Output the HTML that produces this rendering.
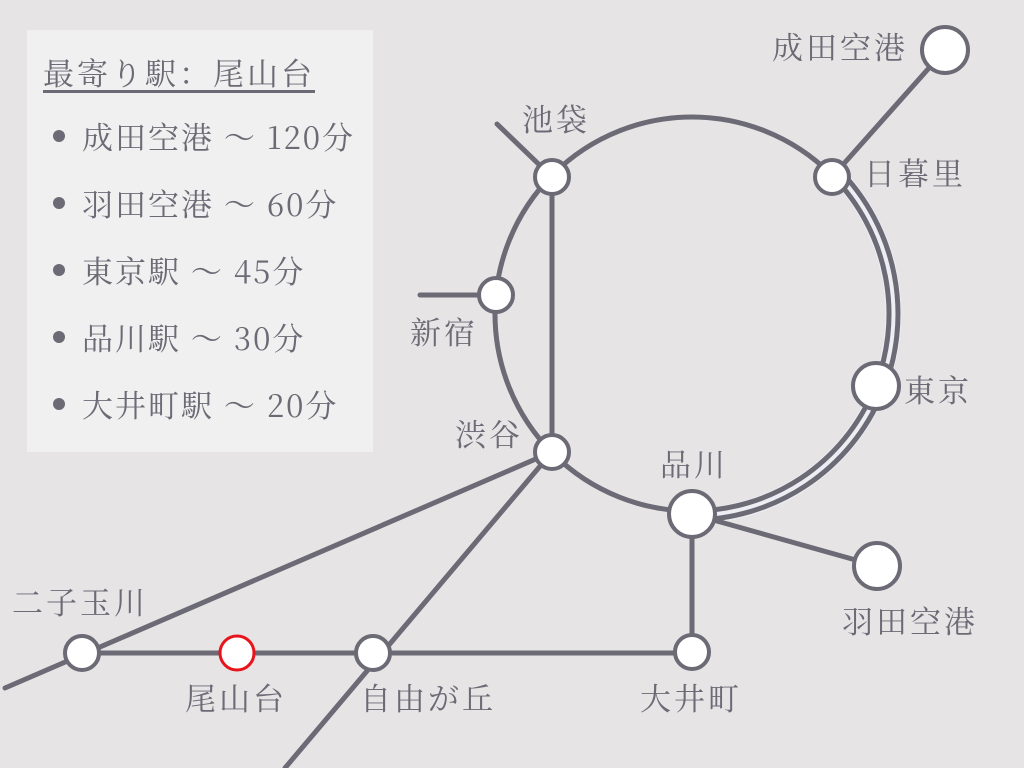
<!DOCTYPE html>
<html><head><meta charset="utf-8"><style>
body{margin:0;width:1024px;height:768px;background:#e6e4e5;overflow:hidden;font-family:"Noto Serif CJK SC","Liberation Serif",serif;color:#6b6a75}
#lg{position:absolute;left:27px;top:30px;width:346px;height:422px;background:#f0f0f0}
#lg .t{position:absolute;left:16px;top:22px;font-size:31px;line-height:40px;text-decoration:underline;text-underline-offset:5px;letter-spacing:3px;white-space:nowrap}
#lg .i{position:absolute;left:55px;font-size:31px;line-height:40px;letter-spacing:2px;white-space:nowrap}
#lg .i:before{content:"";position:absolute;left:-29px;top:14px;width:12px;height:12px;border-radius:50%;background:#6b6a75}
svg{position:absolute;left:0;top:0}
svg text{font-family:"Noto Serif CJK SC","Liberation Serif",serif;font-size:31px;letter-spacing:3px;fill:#6b6a75}
</style></head><body>
<div id="lg">
<div class="t">最寄り駅：尾山台</div>
<div class="i" style="top:86px">成田空港 ～ 120分</div>
<div class="i" style="top:153px">羽田空港 ～ 60分</div>
<div class="i" style="top:220px">東京駅 ～ 45分</div>
<div class="i" style="top:287px">品川駅 ～ 30分</div>
<div class="i" style="top:354px">大井町駅 ～ 20分</div>
</div>
<svg width="1024" height="768" viewBox="0 0 1024 768">
<g fill="none" stroke="#6b6a75" stroke-width="5" stroke-linecap="round">
<circle cx="692" cy="314" r="197"/>
<path d="M 836 173 A 202 202 0 0 1 692 516" stroke="#eceef3" stroke-width="16"/>
<path d="M 832.7 176.1 A 197 197 0 0 1 692 511"/>
<path d="M 839.1 169.8 A 206 206 0 0 1 692 520"/>
<line x1="552" y1="177" x2="552" y2="452"/>
<line x1="552" y1="177" x2="497" y2="124"/>
<line x1="496" y1="295" x2="420" y2="295"/>
<line x1="832" y1="177" x2="945" y2="50"/>
<line x1="552" y1="452" x2="5" y2="688"/>
<line x1="552" y1="452" x2="285" y2="768"/>
<line x1="692" y1="514" x2="877" y2="566"/>
<line x1="692" y1="514" x2="692" y2="652"/>
<line x1="82" y1="653" x2="692" y2="653"/>
</g>
<g fill="#fff" stroke="#6b6a75" stroke-width="4">
<circle cx="552" cy="177" r="17"/>
<circle cx="496" cy="295" r="17"/>
<circle cx="552" cy="452" r="17"/>
<circle cx="832" cy="177" r="17"/>
<circle cx="876" cy="386" r="23"/>
<circle cx="692" cy="514" r="23"/>
<circle cx="945" cy="50" r="23"/>
<circle cx="877" cy="566" r="23"/>
<circle cx="692" cy="652" r="17"/>
<circle cx="373" cy="653" r="17"/>
<circle cx="82" cy="653" r="17"/>
<circle cx="237" cy="653" r="17" stroke="#e8141c" stroke-width="3"/>
</g>
<text x="522" y="131">池袋</text>
<text x="410" y="344">新宿</text>
<text x="455" y="446">渋谷</text>
<text x="660" y="476">品川</text>
<text x="904" y="402">東京</text>
<text x="864" y="185">日暮里</text>
<text x="772" y="59">成田空港</text>
<text x="842" y="633">羽田空港</text>
<text x="640" y="710">大井町</text>
<text x="360" y="710">自由が丘</text>
<text x="185" y="710">尾山台</text>
<text x="12" y="614">二子玉川</text>
</svg>
</body></html>
